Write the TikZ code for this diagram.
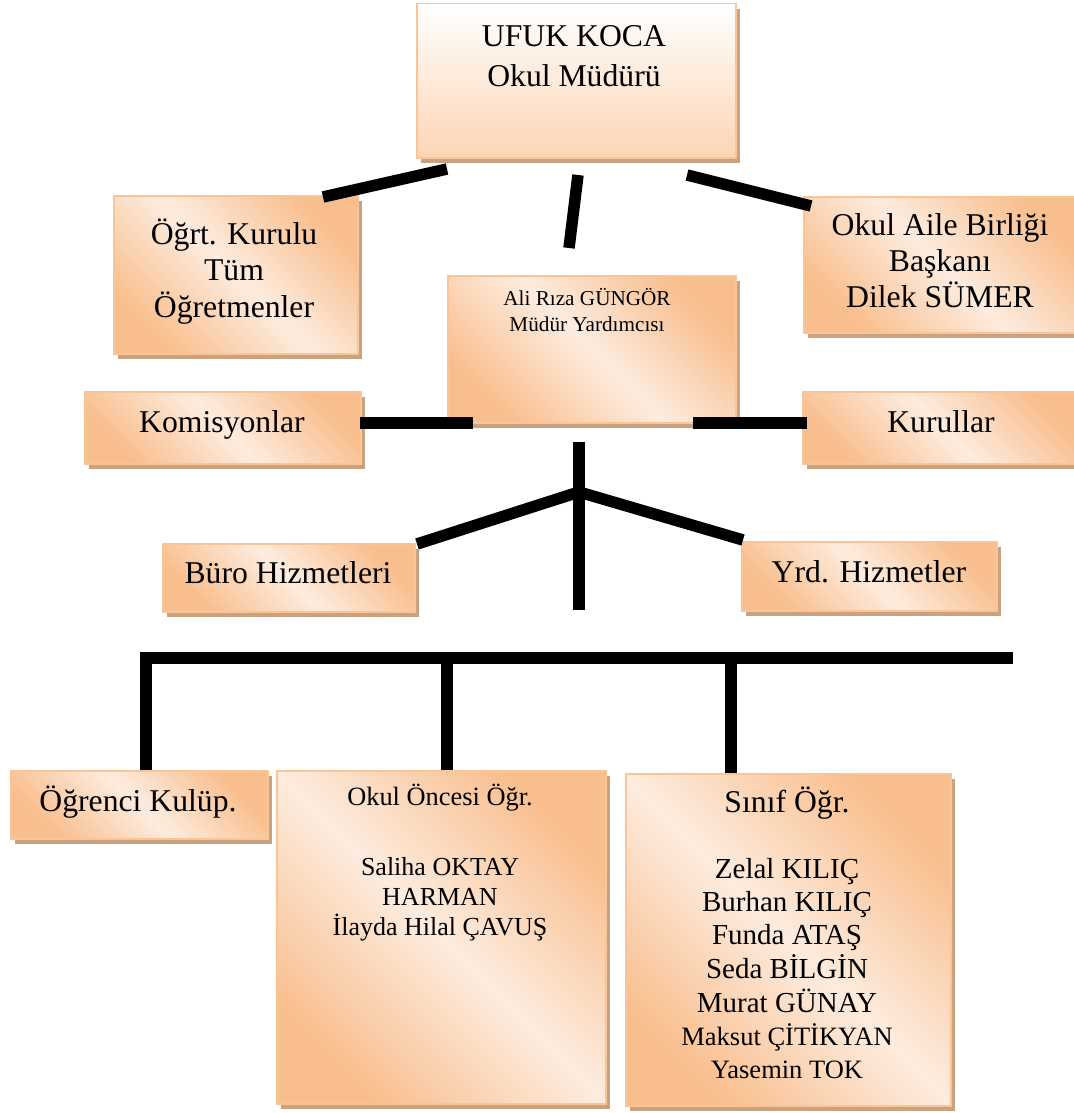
\documentclass[tikz,border=0pt]{standalone}
\usepackage{fontspec}
\setmainfont{Liberation Serif}
\usetikzlibrary{shadows}
\definecolor{orng}{RGB}{249,190,141}
\definecolor{lite}{RGB}{253,236,223}
\definecolor{bord}{RGB}{248,196,152}
\definecolor{shad}{RGB}{203,162,128}
\definecolor{topb}{RGB}{252,213,180}
\tikzset{
  boxbase/.style={rectangle, draw=bord, line width=1.5pt, inner sep=0pt, anchor=north west,
    general shadow={fill=shad, shadow xshift=4pt, shadow yshift=-5pt}},
  diagbox/.style={boxbase, top color=orng, bottom color=orng, middle color=lite, shading angle=-45},
  topbox/.style={boxbase, top color=white, bottom color=topb},
  conn/.style={line width=11.5pt, black, line cap=butt},
  lbl/.style={inner sep=0pt, anchor=base, font=\fontsize{31.7}{37}\selectfont},
}
\begin{document}
\begin{tikzpicture}[x=1pt, y=-1pt]
\useasboundingbox (0,0) rectangle (1073,1113);

% boxes
\node[topbox,  minimum width=319pt, minimum height=154pt] (mudur)   at (416,3) {};
\node[diagbox, minimum width=244pt, minimum height=158pt] (ogrt)    at (113,195) {};
\node[diagbox, minimum width=277pt, minimum height=136pt] (aile)    at (803,196) {};
\node[diagbox, minimum width=288pt, minimum height=147pt] (ali)     at (447,275) {};
\node[diagbox, minimum width=276pt, minimum height=72pt]  (komis)   at (84,391) {};
\node[diagbox, minimum width=278pt, minimum height=72pt]  (kurul)   at (802,391) {};
\node[diagbox, minimum width=252pt, minimum height=68pt]  (buro)    at (162,543) {};
\node[diagbox, minimum width=255pt, minimum height=69pt]  (yrd)     at (741,541) {};
\node[diagbox, minimum width=257pt, minimum height=68pt]  (ogrenci) at (10,770) {};
\node[diagbox, minimum width=329pt, minimum height=333pt] (oncesi)  at (276,770) {};
\node[diagbox, minimum width=325pt, minimum height=332pt] (sinif)   at (625,773) {};

% texts
\node[lbl, font=\fontsize{31.7}{40}\selectfont] (tmudur) at (574,47)
  {\begin{tabular}[t]{@{}c@{}}UFUK KOCA\\Okul Müdürü\end{tabular}};
\node[lbl, font=\fontsize{31.7}{36.5}\selectfont] (togrt) at (234,244)
  {\begin{tabular}[t]{@{}c@{}}Öğrt. Kurulu\\Tüm\\Öğretmenler\end{tabular}};
\node[lbl, font=\fontsize{31.7}{36}\selectfont] (taile) at (940,235)
  {\begin{tabular}[t]{@{}c@{}}Okul Aile Birliği\\Başkanı\\Dilek SÜMER\end{tabular}};
\node[lbl, font=\fontsize{21.2}{26}\selectfont] (tali) at (587,305)
  {\begin{tabular}[t]{@{}c@{}}Ali Rıza GÜNGÖR\\Müdür Yardımcısı\end{tabular}};
\node[lbl] (tkomis) at (222,432) {Komisyonlar};
\node[lbl] (tkurul) at (941,432) {Kurullar};
\node[lbl] (tburo) at (288,583) {Büro Hizmetleri};
\node[lbl] (tyrd) at (869,582) {Yrd. Hizmetler};
\node[lbl] (togrenci) at (138,811) {Öğrenci Kulüp.};
\node[lbl, font=\fontsize{26.4}{30}\selectfont] (toncesi) at (440,805) {Okul Öncesi Öğr.};
\node[lbl, font=\fontsize{26}{30}\selectfont] (toncesilist) at (440,875)
  {\begin{tabular}[t]{@{}c@{}}Saliha OKTAY\\HARMAN\\İlayda Hilal ÇAVUŞ\end{tabular}};
\node[lbl] (tsinif) at (787,812) {Sınıf Öğr.};
\node[lbl, font=\fontsize{29}{33.3}\selectfont] (tsiniflist) at (787,878)
  {\begin{tabular}[t]{@{}c@{}}Zelal KILIÇ\\Burhan KILIÇ\\Funda ATAŞ\\Seda BİLGİN\\Murat GÜNAY\\
   \fontsize{26.5}{30}\selectfont Maksut ÇİTİKYAN\\\fontsize{26.5}{30}\selectfont Yasemin TOK\end{tabular}};

% connector end points
\coordinate (a1) at (323,197); \coordinate (a2) at (447,169);
\coordinate (b1) at (578,175); \coordinate (b2) at (569,248);
\coordinate (c1) at (687,175); \coordinate (c2) at (811,206);
\coordinate (k1) at (360,423); \coordinate (k2) at (473,423);
\coordinate (r1) at (693,423); \coordinate (r2) at (807,423);
\coordinate (v1) at (579,442); \coordinate (vj) at (579,492); \coordinate (v2) at (579,610);
\coordinate (bu) at (417,544); \coordinate (yr) at (743,540);
\coordinate (h1) at (140,658); \coordinate (h2) at (1013,658);
\coordinate (d1) at (146,658); \coordinate (d2) at (447,658); \coordinate (d3) at (731,658);

% connectors
\draw[conn] (a1) -- (a2);
\draw[conn] (b1) -- (b2);
\draw[conn] (c1) -- (c2);
\draw[conn] (k1) -- (k2);
\draw[conn] (r1) -- (r2);
\draw[conn] (v1) -- (v2);
\draw[conn] (bu) -- (vj) -- (yr);
\draw[line width=12pt, black] (h1) -- (h2);
\draw[conn] (d1) -- (d1 |- ogrenci.north);
\draw[conn] (d2) -- (d2 |- oncesi.north);
\draw[conn] (d3) -- (d3 |- sinif.north);
\end{tikzpicture}
\end{document}
